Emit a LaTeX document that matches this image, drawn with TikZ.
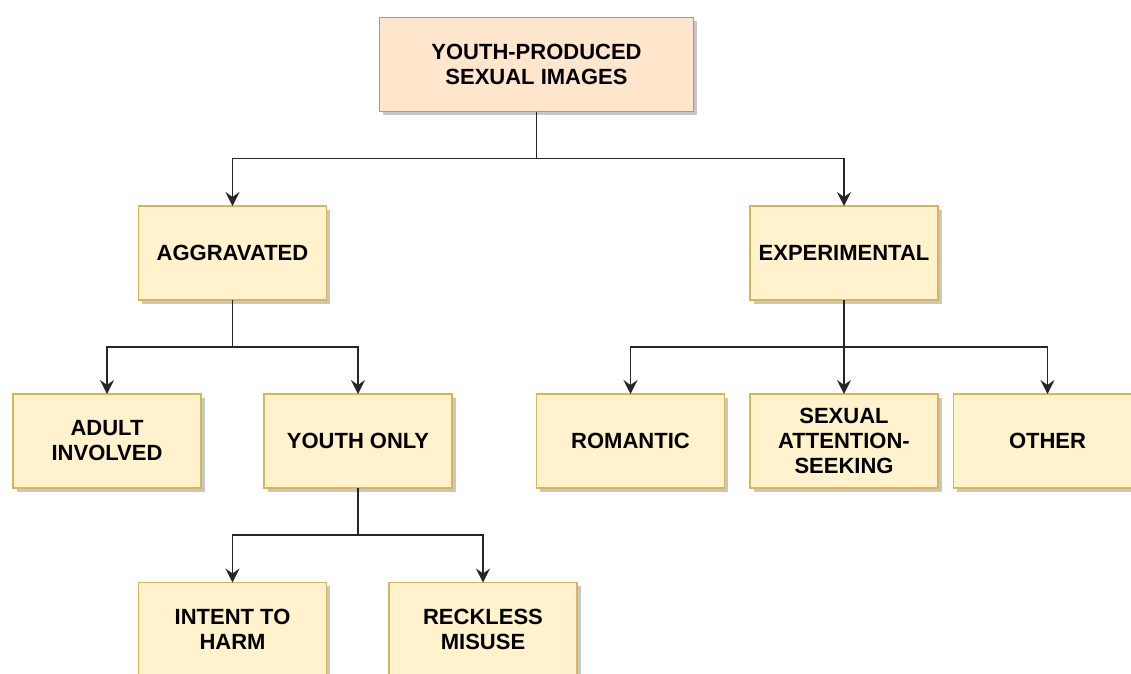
\documentclass[tikz,border=0pt]{standalone}
\usepackage{fontspec}
\setmainfont{Liberation Sans}
\usetikzlibrary{arrows.meta,shadows}
\definecolor{peachfill}{HTML}{FFE6CC}
\definecolor{peachline}{HTML}{D79B00}
\definecolor{yelfill}{HTML}{FFF2CC}
\definecolor{yelline}{HTML}{D6B656}
\tikzset{
  box/.style={draw=yelline, fill=yelfill, line width=1.6pt, minimum width=188pt, minimum height=94pt,
    inner sep=0pt, outer sep=0pt, align=center, text=black,
    font=\fontsize{22}{25}\selectfont\bfseries,
    drop shadow={shadow xshift=3.5pt, shadow yshift=-3.5pt, fill=black, opacity=0.22}},
  topbox/.style={box, draw=peachline, fill=peachfill, minimum width=314pt},
  conn/.style={line width=1.7pt, draw=black!85, -{Stealth[length=14pt,width=14pt,inset=5pt]}}
}
\begin{document}
\begin{tikzpicture}[x=1pt,y=-1pt]
\useasboundingbox (0,0) rectangle (1131,673);
\clip (0,0) rectangle (1131,673);
\fill[white] (0,0) rectangle (1131,673);
\node[topbox] (top) at (536.5,64.5) {YOUTH-PRODUCED\\SEXUAL IMAGES};
\node[box] (aggr) at (232.5,253) {AGGRAVATED};
\node[box] (exper) at (844,253) {EXPERIMENTAL};
\node[box] (adult) at (107,441) {ADULT\\INVOLVED};
\node[box] (youth) at (358,441) {YOUTH ONLY};
\node[box] (rom) at (630.5,441) {ROMANTIC};
\node[box] (sex) at (844,441) {SEXUAL\\ATTENTION-\\SEEKING};
\node[box] (other) at (1047.5,441) {OTHER};
\node[box] (intent) at (232.5,629.5) {INTENT TO\\HARM};
\node[box] (reck) at (483,629.5) {RECKLESS\\MISUSE};
\draw[conn] (top.south) -- ++(0,47) -| (aggr.north);
\draw[conn] (top.south) -- ++(0,47) -| (exper.north);
\draw[conn] (aggr.south) -- ++(0,47) -| (adult.north);
\draw[conn] (aggr.south) -- ++(0,47) -| (youth.north);
\draw[conn] (exper.south) -- ++(0,47) -| (rom.north);
\draw[conn] (exper.south) -- (sex.north);
\draw[conn] (exper.south) -- ++(0,47) -| (other.north);
\draw[conn] (youth.south) -- ++(0,47) -| (intent.north);
\draw[conn] (youth.south) -- ++(0,47) -| (reck.north);
\end{tikzpicture}
\end{document}
